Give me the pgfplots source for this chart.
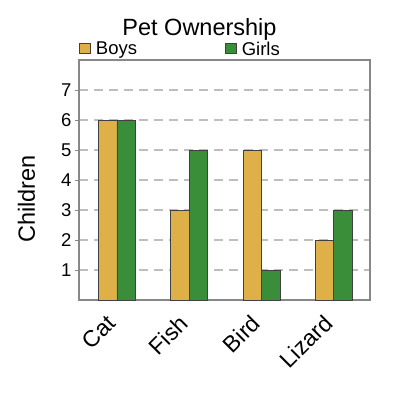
\documentclass[border=0pt]{standalone}
\usepackage{pgfplots}
\pgfplotsset{compat=1.18}
\usepackage{fontspec}
\setmainfont{Liberation Sans}
\definecolor{boys}{RGB}{224,176,72}
\definecolor{girls}{RGB}{58,142,58}
\definecolor{framec}{RGB}{136,136,136}
\definecolor{gridc}{RGB}{190,190,190}
\pgfplotsset{sqlegend/.style={legend image code/.code={%
    \path (0pt,9pt);
    \draw[##1,/tikz/.cd] (0pt,-4pt) rectangle (11pt,6pt);}}}
\begin{document}
\begin{tikzpicture}
\path[use as bounding box] (0pt,0pt) rectangle (400pt,-400pt);
\begin{axis}[
    at={(79pt,-300pt)}, anchor=south west,
    width=291pt, height=240pt, scale only axis,
    ybar=0pt, bar width=18.5pt,
    xmin=-0.525, xmax=3.5, ymin=0, ymax=8,
    xtick={0,1,2,3}, xticklabels={Cat,Fish,Bird,Lizard},
    ytick={1,2,3,4,5,6,7},
    tick pos=left, tick align=outside, major tick length=4pt,
    xtick style={draw=none},
    ytick style={framec, line width=1pt},
    axis line style={framec, line width=1.2pt},
    ymajorgrids,
    major grid style={gridc, line width=1.2pt, dash pattern=on 9pt off 6pt},
    /pgf/number format/assume math mode=true,
    yticklabel style={font=\fontsize{18.5}{20}\selectfont},
    xticklabel style={font=\fontsize{23}{25}\selectfont, xshift=-3pt, yshift=-13pt, rotate=45, anchor=east},
    legend columns=2,
    legend style={draw=none, fill=none, at={(0,1)}, anchor=south west,
        yshift=3pt, inner sep=0pt, column sep=5pt,
        nodes={inner sep=0pt, font=\fontsize{18.5}{20}\selectfont}},
]
\addplot[fill=boys, draw=black!75, line width=0.8pt, sqlegend]
    coordinates {(0,6) (1,3) (2,5) (3,2)};
\addlegendentry{\makebox[124pt][l]{Boys}}
\addplot[fill=girls, draw=black!75, line width=0.8pt, sqlegend]
    coordinates {(0,6) (1,5) (2,1) (3,3)};
\addlegendentry{Girls}
\end{axis}
\node[anchor=base, font=\fontsize{23.5}{26}\selectfont] at (199.5pt,-35pt) {Pet Ownership};
\node[rotate=90, font=\fontsize{23.5}{26}\selectfont] at (26.5pt,-199pt) {Children};
\end{tikzpicture}
\end{document}
